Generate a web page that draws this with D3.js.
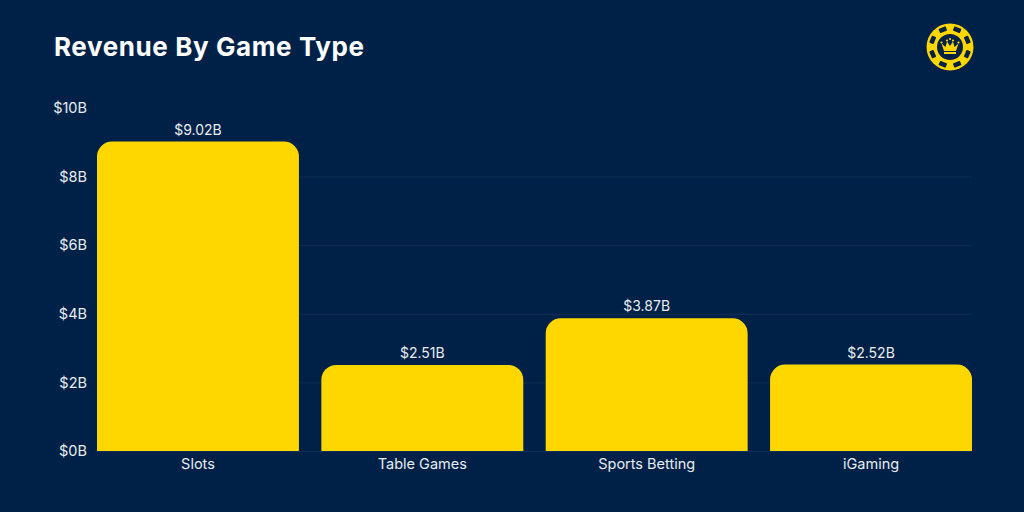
<!DOCTYPE html>
<html>
<head>
<meta charset="utf-8">
<script src="https://cdn.jsdelivr.net/npm/d3@7/dist/d3.min.js"></script>
<style>
  html, body { margin: 0; padding: 0; background: #002147; }
  svg { display: block; font-family: Inter, "Open Sans", sans-serif; }
</style>
</head>
<body>
<div id="app"></div>
<script>
// data
const categories = ['Slots', 'Table Games', 'Sports Betting', 'iGaming'];
const revenue = [9.02, 2.51, 3.87, 2.52];
const revenueLabels = ['$9.02B', '$2.51B', '$3.87B', '$2.52B'];
const yTicks = [0, 2, 4, 6, 8, 10];
const gridTicks = [0, 2, 4, 6, 8];

const width = 1024, height = 512;
const gold = '#ffd700', navy = '#002147';

const svg = d3.select('#app').append('svg')
  .attr('width', width)
  .attr('height', height)
  .style('background', navy);

const x = d3.scaleBand().domain(categories).range([97, 972]).paddingInner(0.1).paddingOuter(0);
const y = d3.scaleLinear().domain([0, 10]).range([451, 108]);

// title
svg.append('text')
  .attr('x', 54).attr('y', 56)
  .attr('fill', '#fff')
  .attr('font-size', 26).attr('font-weight', 700)
  .attr('textLength', 310).attr('lengthAdjust', 'spacing')
  .text('Revenue By Game Type');

// gridlines
svg.append('g')
  .selectAll('line')
  .data(gridTicks)
  .join('line')
  .attr('x1', 97).attr('x2', 972)
  .attr('y1', d => y(d) + 0.5).attr('y2', d => y(d) + 0.5)
  .attr('stroke', '#0f2f55').attr('stroke-width', 1);

// axes
const yAxis = svg.append('g')
  .attr('transform', 'translate(97,0)')
  .call(d3.axisLeft(y).tickValues(yTicks).tickFormat(d => `$${d}B`).tickSize(0).tickPadding(10));
const xAxis = svg.append('g')
  .attr('transform', 'translate(0,451)')
  .call(d3.axisBottom(x).tickSize(0).tickPadding(8));
[yAxis, xAxis].forEach(a => {
  a.select('.domain').remove();
  a.selectAll('text')
    .attr('fill', '#e8ecf1')
    .attr('font-size', 14.5)
    .style('font-family', 'Inter, "Open Sans", sans-serif');
});

// rounded top bars
const r = 15;
function barPath(d, i) {
  const x0 = x(categories[i]), x1 = x0 + x.bandwidth(), top = y(d), base = y(0);
  return `M${x0},${base}V${top + r}A${r},${r} 0 0 1 ${x0 + r},${top}H${x1 - r}A${r},${r} 0 0 1 ${x1},${top + r}V${base}Z`;
}
svg.append('g')
  .selectAll('path')
  .data(revenue)
  .join('path')
  .attr('d', barPath)
  .attr('fill', gold);

// value labels
svg.append('g')
  .selectAll('text')
  .data(revenue)
  .join('text')
  .attr('x', (d, i) => x(categories[i]) + x.bandwidth() / 2)
  .attr('y', d => y(d) - 7)
  .attr('text-anchor', 'middle')
  .attr('fill', '#e8ecf1')
  .attr('font-size', 14)
  .text((d, i) => revenueLabels[i]);

// logo: poker chip with a crown
const logo = svg.append('g').attr('transform', 'translate(950,47)');
logo.append('circle').attr('r', 23.5).attr('fill', gold);
logo.append('circle').attr('r', 13).attr('fill', navy);
d3.range(8).forEach(i => {
  logo.append('rect')
    .attr('x', -3.8).attr('y', -21)
    .attr('width', 7.6).attr('height', 4.6)
    .attr('rx', 0.8)
    .attr('fill', navy)
    .attr('transform', `rotate(${22.5 + i * 45})`);
});
logo.append('path')
  .attr('d', 'M-6,4L-8.5,-3.5L-4.5,0L-3,-5.5L0,-1L3,-5.5L4.5,0L8.5,-3.5L6,4Z')
  .attr('fill', gold);
logo.append('rect').attr('x', -6).attr('y', 5).attr('width', 12).attr('height', 2).attr('fill', gold);
[[-8.5, -4.5], [-3, -6.5], [3, -6.5], [8.5, -4.5], [0, -8]].forEach(p => {
  logo.append('circle').attr('cx', p[0]).attr('cy', p[1]).attr('r', 1.1).attr('fill', gold);
});
</script>
</body>
</html>
